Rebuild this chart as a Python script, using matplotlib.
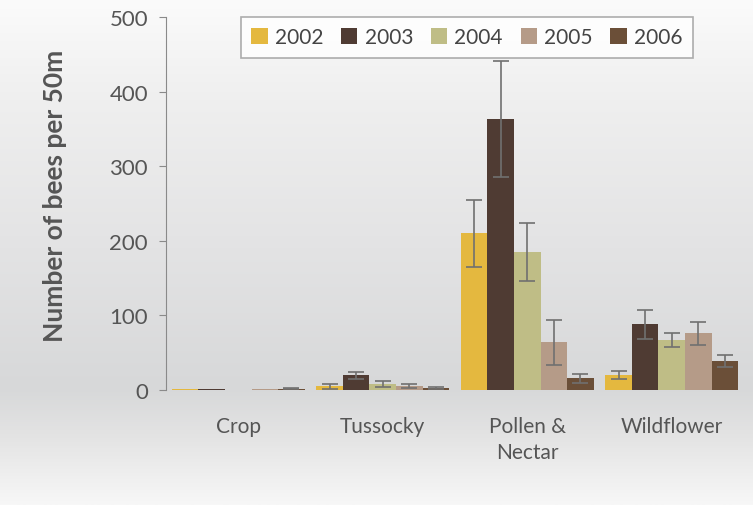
import numpy as np
import matplotlib
matplotlib.use("Agg")
import matplotlib.pyplot as plt
from matplotlib.colors import LinearSegmentedColormap

categories = ["Crop", "Tussocky", "Pollen &\nNectar", "Wildflower"]
years = ["2002", "2003", "2004", "2005", "2006"]
values = {
    "2002": [1.5, 5, 210, 20],
    "2003": [1.5, 19.5, 363, 88],
    "2004": [0, 8, 185, 67],
    "2005": [0.8, 5.5, 64, 76],
    "2006": [1.5, 3, 16, 39],
}
errors = {
    "2002": [0, 3, 45, 5.5],
    "2003": [0, 5, 78, 19.5],
    "2004": [0, 3.5, 39, 10],
    "2005": [0, 2.5, 30, 15.5],
    "2006": [0.8, 1.5, 6, 7.5],
}
colors = ["#E4B83F", "#4F3B33", "#BFBD86", "#B59B88", "#6B4F38"]
yticks = [0, 100, 200, 300, 400, 500]

plt.rcParams['font.family'] = ['Lato', 'DejaVu Sans']

fig = plt.figure(figsize=(7.53, 5.06), dpi=100)

# background gradient
bg = fig.add_axes([0, 0, 1, 1], zorder=-10)
ys = np.array([0, 100, 250, 390, 440, 506]) / 506
cs = ["#fbfbfb", "#efefef", "#e3e3e4", "#d7d8d9", "#e4e4e4", "#f7f7f7"]
cmap = LinearSegmentedColormap.from_list("bg", list(zip(ys, cs)))
grad = np.linspace(0, 1, 512).reshape(-1, 1)
bg.imshow(grad, aspect="auto", cmap=cmap, extent=[0, 1, 0, 1], origin="upper")
bg.set_axis_off()

ax = fig.add_axes([166/753, 1-391/506, (744-166)/753, (391-18)/506])
ax.patch.set_alpha(0)

n = len(years)
x = np.arange(len(categories)) + 0.5
width = 0.92 / n
for i, (yr, c) in enumerate(zip(years, colors)):
    pos = x - 0.46 + width * (i + 0.5)
    ax.bar(pos, values[yr], width=width, color=c, label=yr)
    v = np.array(values[yr], dtype=float)
    e = np.array(errors[yr], dtype=float)
    m = e > 0
    ax.errorbar(pos[m], v[m], yerr=e[m], fmt="none", ecolor="#707070",
                elinewidth=1.2, capsize=6, capthick=1.2)

ax.set_xlim(0, 4)
ax.set_ylim(0, 500)
ax.set_yticks(yticks)
ax.set_xticks(x)
ax.set_xticklabels(categories, linespacing=1.35)
for s in ["top", "right", "bottom"]:
    ax.spines[s].set_visible(False)
ax.spines["left"].set_color("#8a8a8a")
ax.tick_params(axis="y", colors="#8a8a8a", labelcolor="#555555", labelsize=16, length=5, pad=8)
ax.tick_params(axis="x", length=0, labelcolor="#555555", labelsize=15, pad=19)
ax.set_ylabel("Number of bees per 50m", fontsize=19, fontweight="bold",
              color="#555555")
ax.yaxis.set_label_coords((67-166)/578, (391-196)/373)

leg = ax.legend(loc="upper left", bbox_to_anchor=((241-166)/578, 1.0), ncol=5,
                frameon=True, fontsize=15, handlelength=0.78, handleheight=0.78,
                handletextpad=0.35, columnspacing=0.85, borderpad=0.5,
                borderaxespad=0, fancybox=False, labelcolor="#444444")
leg.get_frame().set_edgecolor("#999999")
leg.get_frame().set_facecolor("white")
leg.get_frame().set_linewidth(1.2)

fig.savefig("out.png", dpi=100)
